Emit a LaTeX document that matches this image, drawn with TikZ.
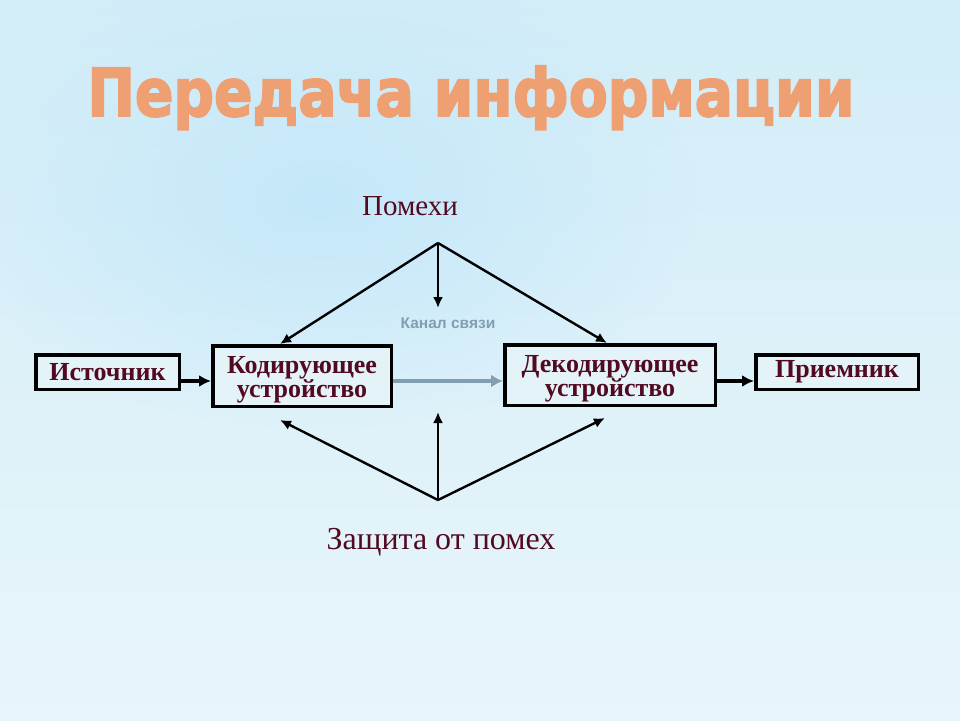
\documentclass[tikz,border=0pt]{standalone}
\usepackage{fontspec}
\setmainfont{Liberation Serif}
\newfontfamily\titlefont{DejaVu Sans Bold}[FakeBold=3]
\newfontfamily\chanfont{Liberation Sans}
\usetikzlibrary{arrows.meta,fadings}
\tikzfading[name=softglow, inner color=transparent!0, outer color=transparent!100]
\definecolor{bgtop}{RGB}{210,237,248}
\definecolor{bgbot}{RGB}{232,245,250}
\definecolor{glow}{RGB}{194,231,250}
\definecolor{titleor}{RGB}{239,160,114}
\definecolor{maroon}{RGB}{82,10,34}
\definecolor{chan}{RGB}{130,158,178}
\definecolor{boxfill}{RGB}{228,243,248}
\tikzset{
  box/.style={draw=black, line width=3.5pt, fill=boxfill, inner sep=0pt,
    font=\fontsize{26}{23}\selectfont\bfseries, text=maroon, align=center},
  arr/.style={line width=2.4pt, -{Latex[length=11pt,width=10pt]}},
  thickarr/.style={line width=3.5pt, -{Latex[length=12pt,width=12pt]}},
  chanarr/.style={draw=chan, line width=4.5pt, -{Latex[length=12pt,width=13pt]}},
  lbl/.style={text=maroon, inner sep=0pt, anchor=base}
}
\newcommand{\firststrut}{\rule{0pt}{25pt}}
\begin{document}
\begin{tikzpicture}[x=1pt,y=-1pt]
\useasboundingbox (0,0) rectangle (960,720);
\shade[top color=bgtop, bottom color=bgbot] (0,0) rectangle (960,720);
\fill[glow, path fading=softglow, opacity=0.9] (320,200) ellipse [x radius=380pt, y radius=230pt];

\node[anchor=base, inner sep=0pt, text=titleor] (title) at (471,116)
  {\resizebox{767pt}{\height}{\titlefont\fontsize{66}{70}\selectfont Передача информации}};

\node[lbl, font=\fontsize{29}{32}\selectfont] (pom) at (410,215) {Помехи};
\node[lbl, font=\fontsize{32}{35}\selectfont] (zas) at (441,549) {Защита от помех};
\node[anchor=base, inner sep=0pt, text=chan, font=\chanfont\bfseries\fontsize{15.5}{17}\selectfont] (kan) at (448,328) {Канал связи};

\node[box, minimum width=143.5pt, minimum height=34.5pt] (ist) at (107.5,372) {Источник};
\node[box, minimum width=178.5pt, minimum height=60.5pt] (kod) at (302,376) {\firststrut Кодирующее\\устройство};
\node[box, minimum width=210.5pt, minimum height=60.5pt] (dek) at (610,375) {\firststrut Декодирующее\\устройство};
\node[box, minimum width=162.5pt, minimum height=34.5pt] (pri) at (837,372) {Приемник};

\coordinate (yl) at (0,381);
\coordinate (top) at (438,243);
\coordinate (topv) at (438,308);
\coordinate (bot) at (438,500);
\coordinate (botv) at (438,412);

\draw[thickarr] (ist.east |- yl) -- (kod.west |- yl);
\draw[chanarr] (kod.east |- yl) -- (dek.west |- yl);
\draw[thickarr] (dek.east |- yl) -- (pri.west |- yl);

\draw[arr] (top) -- ([xshift=-22pt]kod.north);
\draw[arr] (top) -- ([xshift=-3pt]dek.north);
\draw[arr] (top) -- (topv);

\draw[arr] (bot) -- ([xshift=-22pt,yshift=-12pt]kod.south);
\draw[arr] (bot) -- ([xshift=-5pt,yshift=-11pt]dek.south);
\draw[arr] (bot) -- (botv);
\end{tikzpicture}
\end{document}
